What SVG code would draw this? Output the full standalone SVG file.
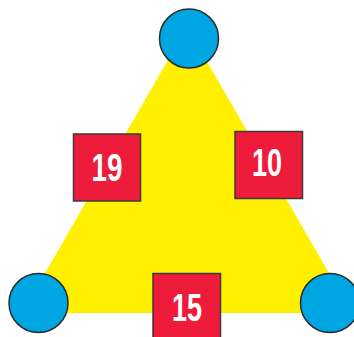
<svg xmlns="http://www.w3.org/2000/svg" width="354" height="337" viewBox="0 0 354 337">
<style>
.c{fill:#00A6E2;stroke:#2b2b2b;stroke-width:1.5}
.s{fill:#EE1C3A;stroke:#3a3a3a;stroke-width:1.5}
.t{fill:#fff;font-family:"Liberation Sans Narrow","Liberation Sans",sans-serif;font-weight:bold;font-size:39px;text-anchor:middle}
</style>
<rect width="354" height="337" fill="#fff"/>
<g id="connectors">
<polygon points="187,27 22,313 352,313" fill="#FFF000"/>
</g>
<g id="n-top"><circle class="c" cx="189" cy="38.5" r="29.5"/></g>
<g id="n-left"><circle class="c" cx="38.5" cy="303" r="29.5"/></g>
<g id="n-right"><circle class="c" cx="330" cy="303" r="29.5"/></g>
<g id="n-19"><rect class="s" x="73.5" y="134" width="67" height="67"/><text class="t" x="107" y="181" textLength="31" lengthAdjust="spacingAndGlyphs">19</text></g>
<g id="n-10"><rect class="s" x="235" y="131.5" width="67.5" height="67"/><text class="t" x="267" y="176" textLength="30" lengthAdjust="spacingAndGlyphs">10</text></g>
<g id="n-15"><rect class="s" x="153" y="273.5" width="67.5" height="67"/><text class="t" x="187" y="321" textLength="30" lengthAdjust="spacingAndGlyphs">15</text></g>
</svg>
